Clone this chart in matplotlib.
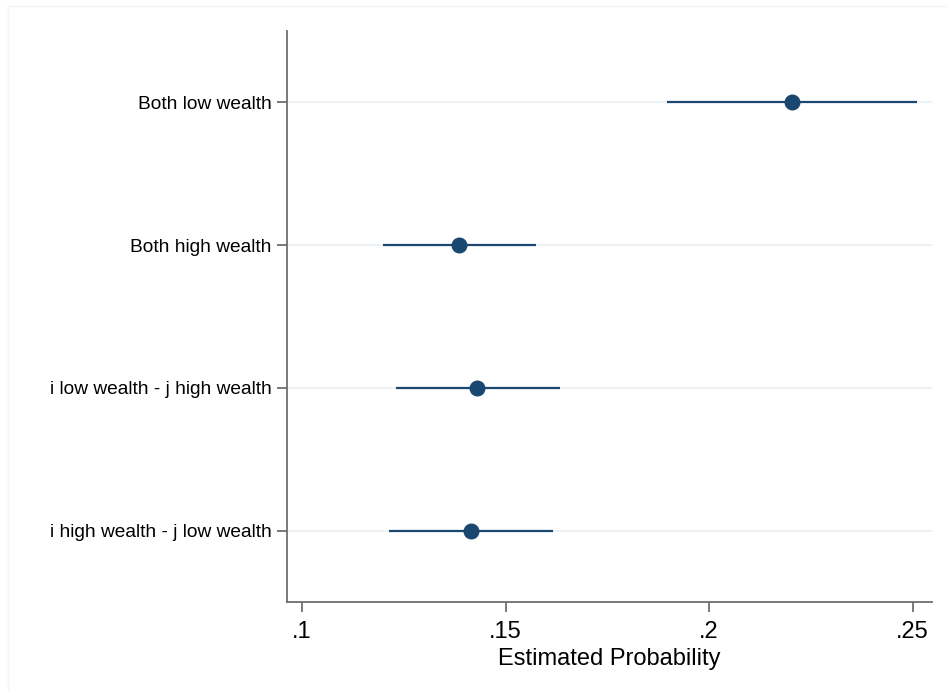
import matplotlib
matplotlib.use("Agg")
import matplotlib.pyplot as plt
from matplotlib.lines import Line2D

categories = ["Both low wealth", "Both high wealth",
              "i low wealth - j high wealth", "i high wealth - j low wealth"]
estimates = [0.2203, 0.1386, 0.1431, 0.1415]
ci_low = [0.1897, 0.1198, 0.1230, 0.1214]
ci_high = [0.2510, 0.1574, 0.1634, 0.1617]
xticks = [0.10, 0.15, 0.20, 0.25]
xticklabels = [".1", ".15", ".2", ".25"]
xlabel = "Estimated Probability"

plt.rcParams['font.family'] = ['Liberation Sans', 'DejaVu Sans']

W, H = 947, 690
fig = plt.figure(figsize=(W / 100, H / 100), dpi=100)
fig.patch.set_facecolor("white")
ax = fig.add_axes([287 / W, (H - 602) / H, (932 - 287) / W, (602 - 31) / H])

navy = "#1a476f"
ypos = list(range(1, len(categories) + 1))

for y in ypos:
    ax.axhline(y, color="#eaf0f3", lw=1.2, zorder=0)

ax.hlines(ypos, ci_low, ci_high, color=navy, lw=1.6, zorder=2)
ax.plot(estimates, ypos, "o", color=navy, markersize=10.5, zorder=3, linestyle="none")

ax.set_xlim(0.09632, 0.25474)
ax.set_ylim(4.5, 0.5)
ax.set_yticks(ypos)
ax.set_yticklabels(categories, fontsize=13.8)
ax.set_xticks(xticks)
ax.set_xticklabels(xticklabels, fontsize=17)
ax.set_xlabel(xlabel, fontsize=17, labelpad=3.5)

for s in ["top", "right"]:
    ax.spines[s].set_visible(False)
for s in ["left", "bottom"]:
    ax.spines[s].set_color("#6e6e6e")
    ax.spines[s].set_linewidth(1.3)
ax.tick_params(axis="both", length=7, width=1.1, color="#555555")
ax.tick_params(axis="x", pad=7)
ax.tick_params(axis="y", pad=4)

# faint outer graph-region border
fig.add_artist(Line2D([8 / W, 8 / W], [0, 1 - 6 / H], transform=fig.transFigure,
                      color="#f4f4f4", lw=1))
fig.add_artist(Line2D([8 / W, 1], [1 - 6 / H, 1 - 6 / H], transform=fig.transFigure,
                      color="#f4f4f4", lw=1))

fig.savefig("out.png", dpi=100, facecolor="white")
